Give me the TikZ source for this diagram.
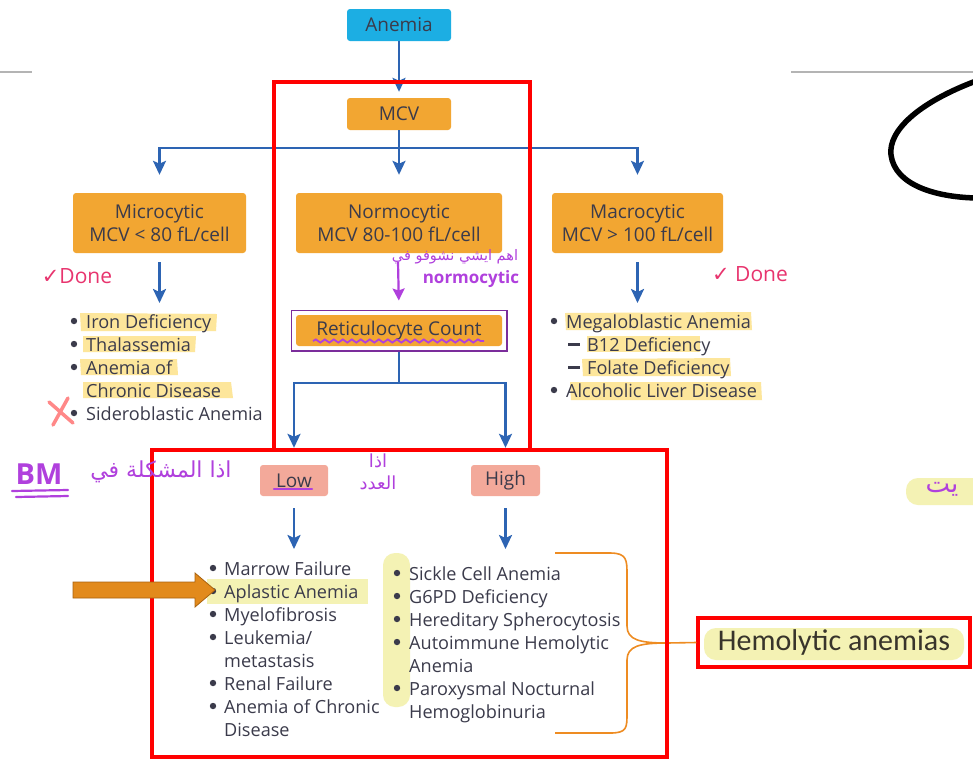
\documentclass[tikz,border=0pt]{standalone}
\usepackage{fontspec}
\setmainfont{Open Sans}
\newfontfamily\arabicfont[Script=Arabic]{DejaVu Sans}
\newfontfamily\symfont{DejaVu Sans}
\newfontfamily\calfont{Carlito}
\TeXXeTstate=1
\usetikzlibrary{arrows.meta,fit,decorations.pathmorphing,calc}

\definecolor{boxorange}{HTML}{F2A632}
\definecolor{boxcyan}{HTML}{1CAEE3}
\definecolor{flowblue}{HTML}{2D64B3}
\definecolor{txt}{HTML}{3B3B4B}
\definecolor{lhpink}{HTML}{F3A99A}
\definecolor{markyellow}{HTML}{FDE28A}
\definecolor{paleyellow}{HTML}{F4F2B4}
\definecolor{ink}{HTML}{B040DD}
\definecolor{donepink}{HTML}{E8346E}
\definecolor{framered}{HTML}{FF0000}
\definecolor{braceorange}{HTML}{EE8C22}
\definecolor{arroworange}{HTML}{E28A1C}
\definecolor{arrowedge}{HTML}{A8620F}
\definecolor{rulegray}{HTML}{B4B4B4}

\tikzset{
  box/.style={rounded corners=3pt, text=txt, align=center, inner sep=0pt,
    font=\fontsize{19}{23}\selectfont},
  flow/.style={draw=flowblue, line width=2.4pt},
  flowarrow/.style={flow, -{Stealth[width=13pt,length=14pt,inset=3pt]}},
  item/.style={anchor=base west, inner sep=0pt, text=txt, font=\fontsize{18.1}{20}\selectfont},
  marker/.style={fill=markyellow, opacity=0.85},
  note/.style={text=ink, inner sep=0pt},
  frame/.style={draw=framered, line width=4pt},
}
\newcommand{\dotat}[2]{\fill[txt] (#1,#2) circle (3.2);}

\begin{document}
\begin{tikzpicture}[x=1pt,y=-1pt]
\useasboundingbox (0,0) rectangle (973,766);
\fill[white] (0,0) rectangle (973,766);

% thin page rules and the large stroke at the top right
\draw[rulegray, line width=1.2pt] (0,72) -- (32,72);
\draw[rulegray, line width=1.2pt] (791,72) -- (973,72);
\draw[black, line width=5.5pt] (976,81) .. controls (920,102) and (888,130) .. (891,155)
  .. controls (895,185) and (935,197) .. (976,198);

% marker highlights (drawn under the text)
\fill[marker] (80,313) -- (217,314) -- (216,331) -- (81,331) -- cycle;
\fill[marker] (83,336) -- (196,336) -- (195,352) -- (83,352) -- cycle;
\fill[marker] (80,359) -- (177,359) -- (178,375) -- (81,375) -- cycle;
\fill[marker] (83,382) -- (231,382) -- (233,398) -- (83,398) -- cycle;
\fill[marker] (565,313) -- (751,312) -- (752,330) -- (566,330) -- cycle;
\fill[marker] (587,336) -- (700,336) -- (700,352) -- (587,352) -- cycle;
\fill[marker] (582,359) -- (730,358) -- (731,376) -- (583,376) -- cycle;
\fill[marker] (570,382) -- (761,382) -- (762,400) -- (571,400) -- cycle;
\fill[paleyellow] (207,579) rectangle (368,604);
\fill[paleyellow, rounded corners=12pt] (383,553) rectangle (410,707);
\fill[paleyellow, rounded corners=12pt] (906,478) rectangle (985,505);

% flowchart boxes
\node[box, fill=boxcyan, minimum width=104pt, minimum height=32pt] (anemia) at (399,25) {Anemia};
\node[box, fill=boxorange, minimum width=104pt, minimum height=32pt] (mcv) at (399,114) {MCV};
\node[box, fill=boxorange, minimum width=173pt, minimum height=60pt] (micro) at (159.5,223) {Microcytic\\MCV < 80 fL/cell};
\node[box, fill=boxorange, minimum width=206pt, minimum height=60pt] (normo) at (399,223) {Normocytic\\MCV 80-100 fL/cell};
\node[box, fill=boxorange, minimum width=171pt, minimum height=60pt] (macro) at (637.5,223) {Macrocytic\\MCV > 100 fL/cell};
\node[box, fill=boxorange, minimum width=206pt, minimum height=31pt] (retic) at (399,330.5) {Reticulocyte Count};
\node[draw=ink!70!black, line width=1.6pt, inner sep=4.5pt, fit=(retic)] (reticframe) {};
\node[box, fill=lhpink, minimum width=68pt, minimum height=31pt] (low) at (294,480.5) {Low};
\node[box, fill=lhpink, minimum width=69pt, minimum height=31pt] (high) at (505.5,480.5) {High};

% connectors
\coordinate (split1) at (399,148);
\coordinate (split2) at (399,383);
\coordinate (microlist) at (159.5,303);
\coordinate (macrolist) at (637.5,303);
\coordinate (lowlist) at (294,549);
\coordinate (highlist) at (505.5,549);
\draw[flowarrow, shorten >=6pt] (anemia.south) -- (mcv.north);
\draw[flow] (mcv.south) -- (split1);
\draw[flowarrow, shorten >=18pt] (split1) -| (micro.north);
\draw[flowarrow, shorten >=18pt] (split1) -| (macro.north);
\draw[flowarrow, shorten >=18pt] (split1) -- (normo.north);
\draw[flowarrow, shorten <=9pt] (micro.south) -- (microlist);
\draw[flowarrow, shorten <=9pt] (macro.south) -- (macrolist);
\draw[flow] (reticframe.south) -- (split2);
\draw[flowarrow, shorten >=17pt] (split2) -| (low.north);
\draw[flowarrow, shorten >=17pt] (split2) -| (high.north);
\draw[flowarrow, shorten <=12pt] (low.south) -- (lowlist);
\draw[flowarrow, shorten <=12pt] (high.south) -- (highlist);

% microcytic causes
\dotat{74}{321}\dotat{74}{344}\dotat{74}{367}\dotat{74}{413}
\node[item] (mi1) at (86,328) {Iron Deficiency};
\node[item] (mi2) at (86,351) {Thalassemia};
\node[item] (mi3) at (86,374) {Anemia of};
\node[item] (mi4) at (86,397) {Chronic Disease};
\node[item] (mi5) at (86,420) {Sideroblastic Anemia};

% macrocytic causes
\dotat{554}{321}\dotat{554}{390}
\fill[txt] (568,342.5) rectangle (580,345.5);
\fill[txt] (568,365.5) rectangle (580,368.5);
\node[item] (ma1) at (566,328) {Megaloblastic Anemia};
\node[item] (ma2) at (587,351) {B12 Deficiency};
\node[item] (ma3) at (587,374) {Folate Deficiency};
\node[item] (ma4) at (566,397) {Alcoholic Liver Disease};

% low reticulocyte causes
\dotat{213}{568}\dotat{213}{591}\dotat{213}{614}\dotat{213}{637}\dotat{213}{683}\dotat{213}{706}
\node[item] (lo1) at (224,575) {Marrow Failure};
\node[item] (lo2) at (224,598) {Aplastic Anemia};
\node[item] (lo3) at (224,621) {Myelofibrosis};
\node[item] (lo4) at (224,644) {Leukemia/};
\node[item] (lo5) at (224,667) {metastasis};
\node[item] (lo6) at (224,690) {Renal Failure};
\node[item] (lo7) at (224,713) {Anemia of Chronic};
\node[item] (lo8) at (224,736) {Disease};

% high reticulocyte causes
\dotat{397}{573}\dotat{397}{596}\dotat{397}{619}\dotat{397}{642}\dotat{397}{688}
\node[item] (hi1) at (409,580) {Sickle Cell Anemia};
\node[item] (hi2) at (409,603) {G6PD Deficiency};
\node[item] (hi3) at (409,626) {Hereditary Spherocytosis};
\node[item] (hi4) at (409,649) {Autoimmune Hemolytic};
\node[item] (hi5) at (409,672) {Anemia};
\node[item] (hi6) at (409,695) {Paroxysmal Nocturnal};
\node[item] (hi7) at (409,718) {Hemoglobinuria};

% hemolytic group label and its brace
\fill[paleyellow, rounded corners=12pt] (704,628) rectangle (964,660);
\node[draw=framered, line width=3.5pt, minimum width=272pt, minimum height=49pt, inner sep=0pt,
  text=black!80!olive, font=\calfont\fontsize{30}{32}\selectfont] (hemo) at (834,642.5) {Hemolytic anemias};
\coordinate (bracetip) at (667,643);
\draw[braceorange, line width=1.6pt] (555,553) -- (610,553) .. controls (627,553) and (627,560) .. (627,575)
  -- (627,626) .. controls (627,640) and (640,643) .. (bracetip);
\draw[braceorange, line width=1.6pt] (bracetip) .. controls (640,643) and (627,646) .. (627,660)
  -- (627,713) .. controls (627,728) and (627,733) .. (610,733) -- (555,733);
\draw[braceorange, line width=1.6pt] (bracetip) -- (hemo.west);

% red frames
\draw[frame] (274,82) rectangle (530,450);
\draw[frame] (152,450) rectangle (667,757);

% handwritten notes
\draw[ink, line width=1.8pt, decorate, decoration={snake, amplitude=1.6pt, segment length=9pt}] (313,341) -- (484,341);
\draw[ink, line width=2.4pt, line cap=round] (274,489) -- (312,489);
\node[note, font=\arabicfont\fontsize{14.5}{16}\selectfont] (ann1) at (455,257) {\beginR اهم ايشي نشوفو في\endR};
\node[note, font=\bfseries\fontsize{17}{19}\selectfont] (ann2) at (471,279) {normocytic};
\coordinate (annfoot) at (398,262);
\draw[ink, line width=2.2pt, -{Stealth[width=12pt,length=12pt,inset=2pt]}, shorten >=9pt] (annfoot) -- (reticframe.north);
\node[note, font=\arabicfont\fontsize{22}{24}\selectfont] (ann3) at (161,472) {\beginR اذا المشكلة في\endR};
\node[note, font=\bfseries\fontsize{29}{30}\selectfont] (bm) at (39,474) {BM};
\draw[ink, line width=2.2pt, line cap=round] (12,491) -- (68,490) (16,497) -- (68,496);
\node[note, font=\arabicfont\fontsize{18}{22}\selectfont, align=center] (ann4) at (378,472) {\beginR اذا\endR\\\beginR العدد\endR};
\node[note, font=\arabicfont\fontsize{26}{28}\selectfont] (ann5) at (942,489) {\beginR يت\endR};
\node[text=donepink, inner sep=0pt, font=\fontsize{21}{22}\selectfont] (done1) at (77,276) {{\symfont ✓}Done};
\node[text=donepink, inner sep=0pt, font=\fontsize{21}{22}\selectfont] (done2) at (750,274) {{\symfont ✓} Done};
\draw[framered!70!pink, opacity=0.6, line width=3.5pt, line cap=round] (49,402) -- (73,423) (68,398) -- (53,425);

% pointer arrow onto aplastic anemia
\draw[arrowedge, fill=arroworange, line width=0.8pt] (73,582) -- (195,582) -- (195,573) -- (215,590)
  -- (195,607) -- (195,598) -- (73,598) -- cycle;
\end{tikzpicture}
\end{document}
